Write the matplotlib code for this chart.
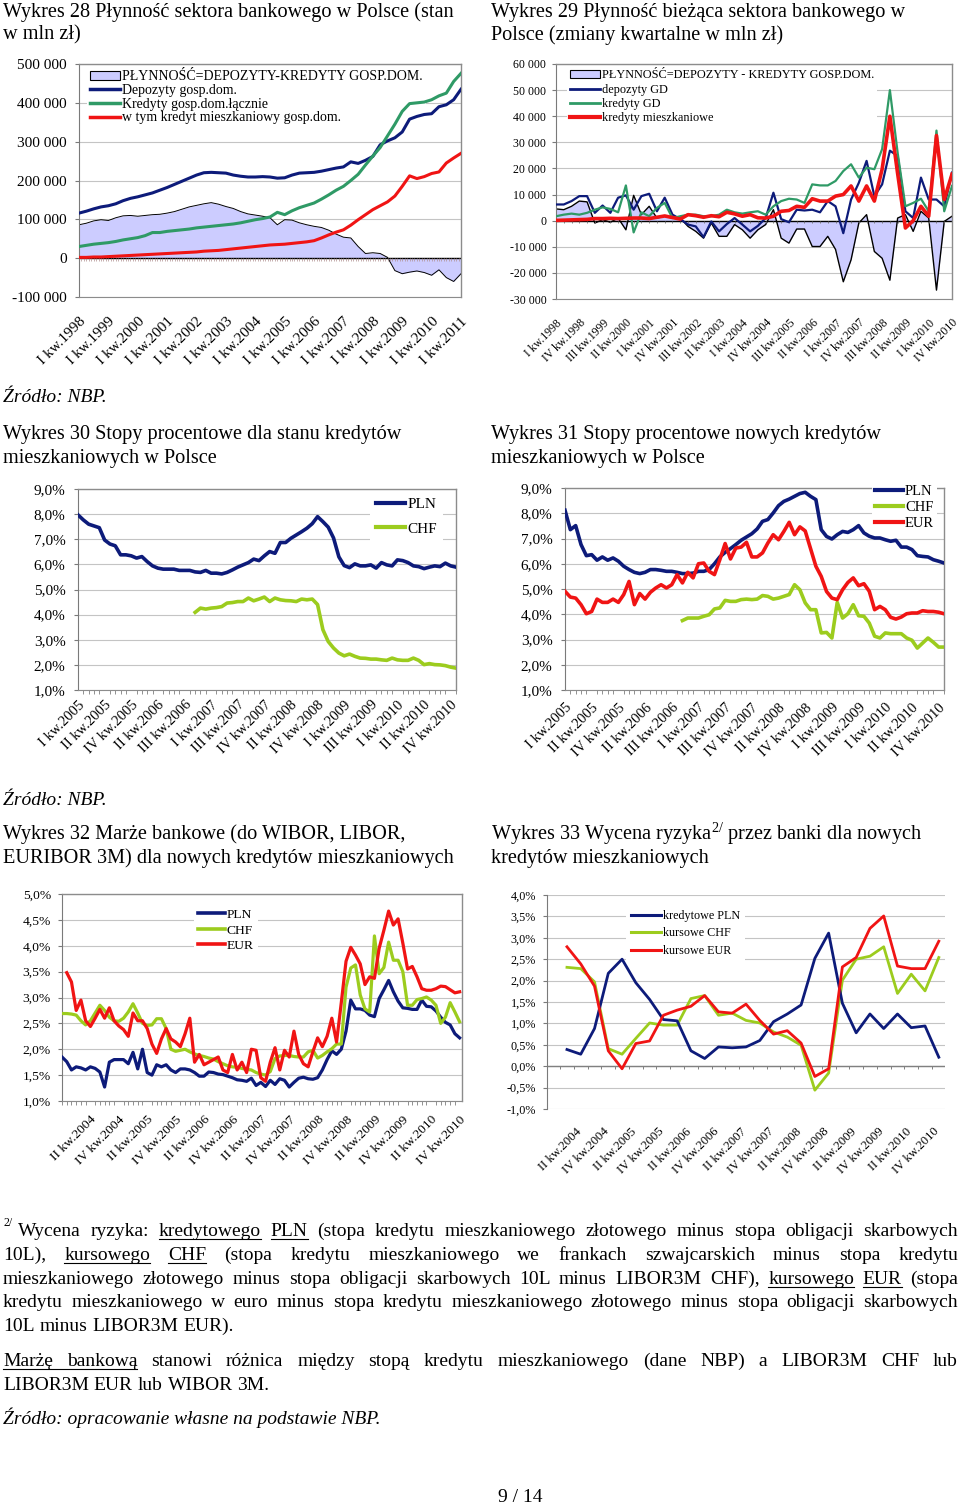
import numpy as np
import matplotlib
matplotlib.use('Agg')
import matplotlib.pyplot as plt
from matplotlib.patches import Patch
from matplotlib.lines import Line2D

plt.rcParams['font.family'] = ['Liberation Serif', 'DejaVu Serif']
plt.rcParams['mathtext.fontset'] = 'custom'
plt.rcParams['mathtext.rm'] = 'Liberation Serif'

W, H = 960, 1508
NAVY = '#0d1b7a'
SEA = '#2f9a66'
RED = '#f01414'
LIME = '#9ccc1e'
LAV = '#ccccff'
GRID = '#c4c4c4'
FRAME = '#8c8c8c'

# ---- Wykres 28 (kwartalnie, tys. mln zl) ----
lab28 = ['I kw.%d' % r for r in range(1998, 2012)]
depozyty28 = [116, 121, 127, 132, 135, 140, 148, 154, 158, 163, 168, 175, 182, 190, 198, 206,
              214, 220, 221, 220, 219, 214, 211, 209, 209, 210, 209, 206, 207, 214, 219, 220,
              221, 224, 228, 232, 235, 248, 244, 252, 262, 292, 302, 310, 325, 358, 365, 370,
              372, 390, 395, 408, 435]
kredyty28 = [30, 33, 36, 38, 40, 43, 47, 50, 53, 58, 66, 66, 69, 71, 73, 75,
             78, 80, 82, 84, 86, 88, 91, 95, 99, 102, 106, 118, 112, 122, 130, 136,
             142, 152, 163, 175, 185, 200, 216, 240, 263, 285, 315, 345, 378, 398, 400, 402,
             408, 418, 425, 455, 476]
mieszk28 = [2, 2, 3, 3, 4, 5, 6, 7, 8, 9, 10, 11, 12, 13, 14, 15,
            16, 18, 19, 20, 22, 24, 26, 28, 30, 32, 34, 35, 36, 38, 40, 42,
            45, 52, 60, 67, 73, 85, 99, 112, 125, 135, 145, 160, 185, 212, 205, 210,
            218, 222, 245, 258, 270]
plynnosc28 = [86, 90, 96, 99, 97, 104, 109, 110, 108, 110, 112, 113, 116, 120, 126, 132,
              136, 140, 143, 139, 133, 128, 120, 114, 111, 108, 104, 86, 99, 98, 91, 86,
              82, 79, 72, 62, 54, 52, 30, 12, 14, 12, 2, -32, -40, -36, -33, -37,
              -44, -30, -50, -60, -40]

# ---- Wykres 29 (zmiany kwartalne, tys. mln zl) ----
lab29 = ['I kw.1998', 'IV kw.1998', 'III kw.1999', 'II kw.2000', 'I kw.2001', 'IV kw.2001',
         'III kw.2002', 'II kw.2003', 'I kw.2004', 'IV kw.2004', 'III kw.2005', 'II kw.2006',
         'I kw.2007', 'IV kw.2007', 'III kw.2008', 'II kw.2009', 'I kw.2010', 'IV kw.2010']
depozyty29 = [6.2, 6.2, 7.5, 9.4, 9.4, 3.0, 5.8, 3.0, 8.8, 9.7, 4.2, 9.4, 10.3, 3.6, 8.8, 2.3,
              0.6, -1.5, -2.2, -6.3, -0.3, -4.1, -1.3, 1.0, -1.5, -4.1, -2.0, 1.0, 10.7, 0.6,
              -0.6, 4.2, 3.9, 4.2, 3.2, 7.5, 5.5, -4.8, 8.1, 14.5, 22.9, 9.4, 13.9, 26.8, 24.8,
              3.6, 1.0, 16.5, 8.1, 8.1, 5.5, 18.4]
kredyty29 = [1.7, 2.3, 2.7, 2.3, 3.0, 4.2, 5.1, 4.5, 3.2, 13.5, -4.5, 3.2, 1.7, 4.9, 6.8, 1.0,
             1.7, 2.3, 2.3, 1.7, 1.7, 2.3, 4.2, 3.2, 2.7, 3.2, 3.6, 2.3, 5.5, 7.5,
             8.4, 8.1, 6.8, 13.9, 13.5, 13.5, 15.2, 19.0, 21.6, 16.5, 20.3, 19.7, 27.4, 50.0, 26.0,
             5.5, 6.8, 8.4, 3.6, 34.5, 3.6, 13.3]
mieszk29 = [0.1, 0.2, 0.3, 0.4, 0.5, 0.8, 0.8, 0.9, 0.8, 0.9, 1.0, 1.0, 0.8, 1.3, 1.8, 1.2,
            0.6, 2.3, 1.9, 1.3, 1.9, 1.5, 3.2, 2.6, 1.7, 2.3, 1.1, 1.0, 1.7, 3.6,
            3.9, 5.5, 5.1, 8.4, 7.5, 7.5, 9.4, 10.0, 13.3, 7.5, 13.3, 7.5, 19.7, 40.0, 18.0,
            -2.8, 0.0, 5.5, 1.7, 32.6, 8.1, 17.8]
plynnosc29 = [4.5, 4.2, 5.5, 7.5, 7.2, -0.9, 0.4, -0.6, 1.0, -3.5, 9.7, 2.3, 5.5, 1.0, 1.7, 1.0,
              1.0, -2.2, -4.1, -6.7, -0.9, -6.0, -6.0, -1.5, -3.5, -6.7, -3.5, -1.5, 4.2, -6.7,
              -8.6, -3.2, -3.2, -9.9, -9.9, -6.0, -11.0, -23.4, -15.0, -0.9, 2.3, -11.8, -14.4,
              -22.8, 1.0, 2.3, -4.1, 3.6, 1.0, -26.6, -0.3, 1.7]

# ---- Wykres 30 / 31 (miesiecznie 2005-2010) ----
lab3031 = ['I kw.2005', 'II kw.2005', 'IV kw.2005', 'II kw.2006', 'III kw.2006', 'I kw.2007',
           'III kw.2007', 'IV kw.2007', 'II kw.2008', 'IV kw.2008', 'I kw.2009', 'III kw.2009',
           'I kw.2010', 'II kw.2010', 'IV kw.2010']
pln30 = [7.97, 7.77, 7.6, 7.53, 7.46, 6.97, 6.81, 6.74, 6.38, 6.38, 6.34, 6.25, 6.31, 6.11, 5.94,
         5.85, 5.81, 5.81, 5.81, 5.76, 5.76, 5.76, 5.7, 5.68, 5.76, 5.65, 5.65, 5.62, 5.68, 5.78,
         5.89, 5.98, 6.07, 6.21, 6.15, 6.34, 6.51, 6.44, 6.87, 6.87, 7.04, 7.17, 7.3, 7.44, 7.62,
         7.9, 7.7, 7.48, 7.05, 6.3, 5.95, 5.87, 6.02, 5.94, 5.94, 5.98, 5.85, 6.07, 5.98, 5.94,
         6.18, 6.15, 6.07, 5.94, 5.91, 5.83, 5.89, 5.94, 5.91, 6.05, 5.94, 5.89]
chf30 = [np.nan] * 22 + [4.09, 4.26, 4.22, 4.26, 4.28, 4.32, 4.46, 4.48, 4.52, 4.52, 4.66, 4.55,
                         4.62, 4.7, 4.52, 4.66, 4.59, 4.56, 4.55, 4.52, 4.62, 4.59, 4.62, 4.4,
                         3.4, 2.93, 2.67, 2.47, 2.36, 2.43, 2.34, 2.27, 2.26, 2.23, 2.23, 2.2,
                         2.18, 2.27, 2.2, 2.18, 2.18, 2.27, 2.18, 2.01, 2.05, 2.01, 2.0, 1.97,
                         1.91, 1.87]
pln31 = [8.12, 7.35, 7.51, 6.76, 6.32, 6.36, 6.14, 6.27, 6.14, 6.23, 6.1, 5.9, 5.77, 5.66, 5.61,
         5.66, 5.77, 5.77, 5.74, 5.7, 5.7, 5.66, 5.61, 5.61, 5.63, 5.7, 5.7, 5.77, 6.0, 6.27,
         6.45, 6.6, 6.76, 6.93, 7.06, 7.19, 7.38, 7.68, 7.75, 8.01, 8.3, 8.47, 8.56, 8.67, 8.78,
         8.83, 8.67, 8.54, 7.35, 7.08, 6.98, 7.15, 7.28, 7.24, 7.35, 7.51, 7.22, 7.09, 7.02, 7.02,
         6.95, 6.89, 6.93, 6.66, 6.66, 6.56, 6.32, 6.29, 6.27, 6.16, 6.1, 6.03]
eur31 = [4.91, 4.68, 4.64, 4.38, 4.02, 4.11, 4.6, 4.47, 4.47, 4.6, 4.47, 4.78, 5.3, 4.38, 4.82,
         4.6, 4.87, 5.04, 5.17, 5.04, 5.17, 5.57, 5.24, 5.66, 5.44, 6.0, 6.03, 5.7, 5.57, 6.16,
         6.8, 6.19, 6.62, 6.66, 6.85, 6.27, 6.27, 6.43, 6.82, 7.15, 6.95, 7.28, 7.64, 7.15, 7.46,
         7.3, 6.6, 5.9, 5.5, 4.9, 4.64, 4.58, 4.97, 5.26, 5.44, 5.13, 5.21, 4.91, 4.18, 4.31,
         4.18, 3.88, 3.81, 3.89, 4.02, 4.05, 4.05, 4.14, 4.11, 4.11, 4.08, 4.02]
chf31 = [np.nan] * 22 + [3.75, 3.85, 3.85, 3.85, 3.92, 3.98, 4.21, 4.25, 4.55, 4.51, 4.51, 4.58,
                         4.6, 4.58, 4.6, 4.74, 4.71, 4.6, 4.64, 4.71, 4.78, 5.17, 4.97, 4.45,
                         4.18, 4.18, 3.26, 3.28, 3.06, 4.47, 3.85, 4.02, 4.38, 3.94, 3.92, 3.65,
                         3.13, 3.06, 3.26, 3.23, 3.23, 3.23, 3.06, 2.97, 2.66, 2.86, 3.06, 2.89,
                         2.7, 2.7]

# ---- Wykres 32 (miesiecznie X 2003 - X 2010) ----
lab32 = ['II kw.2004', 'IV kw.2004', 'II kw.2005', 'IV kw.2005', 'II kw.2006', 'IV kw.2006',
         'II kw.2007', 'IV kw.2007', 'II kw.2008', 'IV kw.2008', 'II kw.2009', 'IV kw.2009',
         'II kw.2010', 'IV kw.2010']
pln32 = [1.85, 1.76, 1.6, 1.66, 1.64, 1.6, 1.66, 1.63, 1.56, 1.27, 1.75, 1.8, 1.8, 1.8, 1.72,
         1.94, 1.62, 2.0, 1.55, 1.5, 1.7, 1.66, 1.7, 1.6, 1.55, 1.62, 1.62, 1.6, 1.55, 1.48,
         1.48, 1.56, 1.55, 1.52, 1.51, 1.48, 1.45, 1.41, 1.4, 1.38, 1.44, 1.3, 1.36, 1.28, 1.4,
         1.32, 1.43, 1.4, 1.27, 1.36, 1.44, 1.46, 1.43, 1.42, 1.45, 1.6, 1.8, 1.97, 1.9, 2.0,
         2.35, 2.95, 2.78, 2.78, 2.75, 2.66, 2.63, 2.98, 3.15, 3.33, 3.11, 2.93, 2.8, 2.79, 2.77,
         2.77, 2.95, 2.83, 2.82, 2.74, 2.62, 2.52, 2.47, 2.3, 2.22]
chf32 = [2.69, 2.69, 2.68, 2.66, 2.55, 2.47, 2.55, 2.7, 2.85, 2.75, 2.62, 2.55, 2.54, 2.6, 2.72,
         2.88, 2.7, 2.5, 2.46, 2.47, 2.59, 2.59, 2.4, 2.0, 1.96, 1.98, 2.0, 1.95, 1.91, 1.88,
         1.86, 1.83, 1.81, 1.76, 1.72, 1.68, 1.66, 1.65, 1.63, 1.61, 1.6, 1.55, 1.52, 1.5, 1.57,
         1.82, 1.87, 1.88, 1.88, 1.86, 1.85, 1.85, 1.95, 1.98, 1.83, 1.88, 1.95, 2.01, 2.1, 2.1,
         3.2, 3.57, 3.63, 3.05, 2.78, 2.72, 4.19, 3.46, 3.58, 4.07, 3.72, 3.72, 3.5, 2.85, 2.85,
         2.96, 2.98, 3.01, 2.95, 2.85, 2.5, 2.62, 2.9, 2.72, 2.53]
eur32 = [np.nan, 3.48, 3.3, 2.75, 2.95, 2.55, 2.44, 2.6, 2.77, 2.6, 2.8, 2.55, 2.45, 2.38, 2.25,
         2.7, 2.55, 2.55, 2.4, 2.1, 1.92, 2.2, 2.4, 2.2, 2.14, 2.05, 2.3, 2.6, 1.75, 1.9,
         1.7, 1.75, 1.8, 1.85, 1.6, 1.55, 1.9, 1.6, 1.75, 1.55, 2.0, 1.98, 1.45, 1.38, 1.75,
         2.03, 1.6, 1.98, 1.85, 2.35, 1.9, 1.72, 1.66, 1.95, 2.22, 2.05, 2.25, 2.6, 2.14, 2.9,
         3.7, 3.97, 3.82, 3.65, 3.25, 3.4, 3.37, 3.95, 4.3, 4.67, 4.4, 4.52, 4.05, 3.55, 3.6,
         3.4, 3.17, 3.14, 3.14, 3.17, 3.22, 3.21, 3.15, 3.09, 3.11]

# ---- Wykres 33 (kwartalnie) ----
lab33 = lab32
pln33 = [0.39, 0.28, 0.88, 2.17, 2.5, 1.95, 1.56, 1.09, 1.06, 0.36, 0.18, 0.45, 0.43, 0.45,
         0.6, 1.04, 1.22, 1.43, 2.52, 3.11, 1.47, 0.78, 1.22, 0.88, 1.22, 0.9, 0.94, 0.21]
chf33 = [2.31, 2.28, 1.97, 0.41, 0.28, 0.65, 1.01, 0.96, 0.96, 1.58, 1.65, 1.19, 1.24, 1.07,
         1.01, 0.8, 0.68, 0.49, -0.56, -0.16, 2.01, 2.5, 2.57, 2.79, 1.7, 2.15, 1.76, 2.54]
eur33 = [2.79, 2.39, 1.87, 0.36, -0.06, 0.53, 0.59, 1.19, 1.31, 1.4, 1.65, 1.27, 1.24, 1.45,
         1.07, 0.75, 0.83, 0.54, -0.24, -0.06, 2.32, 2.54, 3.22, 3.51, 2.34, 2.28, 2.28, 2.92]


fig = plt.figure(figsize=(9.6, 15.08), dpi=100)
fig.patch.set_facecolor('white')


def fx(x):
    return x / W


def fy(y):
    return 1 - y / H


def make_ax(l, t, r, b, border=True):
    ax = fig.add_axes([l / W, 1 - b / H, (r - l) / W, (b - t) / H])
    for s in ('top', 'right'):
        ax.spines[s].set_visible(border)
        ax.spines[s].set_color(FRAME)
        ax.spines[s].set_linewidth(1.0)
    ax.spines['left'].set_color('#7a7a7a')
    ax.spines['bottom'].set_color(FRAME)
    ax.set_axisbelow(True)
    return ax


def pct(v):
    return ('%.1f%%' % v).replace('.', ',')


def thousands(v):
    s = '{:,}'.format(int(v * 1000)).replace(',', ' ')
    return s


def yaxis(ax, ticks, labels, size, pad=4):
    ax.set_yticks(ticks)
    ax.set_yticklabels(labels, fontsize=size)
    ax.tick_params(axis='y', length=3, width=0.8, color='#7a7a7a', pad=pad)
    ax.grid(axis='y', color=GRID, lw=0.8)


def xaxis(ax, pos, labels, size, pad):
    ax.set_xticks(pos)
    ax.set_xticklabels(labels, fontsize=size, rotation=45, ha='right', va='top',
                       rotation_mode='anchor')
    ax.tick_params(axis='x', length=0, pad=pad)


def legend(ax, handles, labels, x, y, size, **kw):
    lg = ax.legend(handles, labels, loc='upper left', bbox_to_anchor=(fx(x), fy(y)),
                   bbox_transform=fig.transFigure, fontsize=size, frameon=True,
                   fancybox=False, framealpha=1, facecolor='white', edgecolor='none', **kw)
    # legend box hides grid and frame, but the series stay on top
    lg.set_zorder(2.8)
    return lg


# ===== Wykres 28 =====
ax = make_ax(79, 64, 461, 297)
x28 = np.arange(len(depozyty28))
ax.fill_between(x28, plynnosc28, 0, color=LAV, lw=0, zorder=1)
ax.plot(x28, plynnosc28, color='black', lw=0.7, zorder=2)
ax.axhline(0, color='black', lw=1.0, zorder=2)
ax.vlines(np.arange(0, 52.01, 1 / 3), -8, 0, color='#b09090', lw=0.5, zorder=2)
ax.plot(x28, depozyty28, color=NAVY, lw=2.2, zorder=3)
ax.plot(x28, kredyty28, color=SEA, lw=2.2, zorder=3)
ax.plot(x28, mieszk28, color=RED, lw=2.2, zorder=3)
ax.set_xlim(0, 52)
ax.set_ylim(-100, 500)
yt = list(range(-100, 501, 100))
yaxis(ax, yt, [thousands(v) if v else '0' for v in yt], 11, pad=6)
xaxis(ax, np.arange(0, 53, 4), lab28, 11, pad=13)
legend(ax, [Patch(facecolor=LAV, edgecolor='black', lw=0.8),
            Line2D([], [], color=NAVY, lw=2.5), Line2D([], [], color=SEA, lw=2.5),
            Line2D([], [], color=RED, lw=2.5)],
       ['PŁYNNOŚĆ=DEPOZYTY-KREDYTY GOSP.DOM.', 'Depozyty gosp.dom.',
        'Kredyty gosp.dom.łącznie', 'w tym kredyt mieszkaniowy gosp.dom.'],
       80, 60, 10, handlelength=2.1, labelspacing=0.05, borderpad=0.25, handletextpad=0.15,
       handleheight=0.6)

# ===== Wykres 29 =====
ax = make_ax(556, 64, 952, 299)
x29 = np.arange(len(depozyty29))
ax.fill_between(x29, plynnosc29, 0, color=LAV, lw=0, zorder=1)
ax.plot(x29, plynnosc29, color='black', lw=1.0, zorder=2)
ax.axhline(0, color='black', lw=1.0, zorder=2)
ax.vlines(x29, -1.0, 0, color='#707070', lw=0.6, zorder=2)
ax.plot(x29, depozyty29, color=NAVY, lw=1.6, zorder=3)
ax.plot(x29, kredyty29, color=SEA, lw=1.6, zorder=3)
ax.plot(x29, mieszk29, color=RED, lw=2.6, zorder=4)
ax.set_xlim(0, 51)
ax.set_ylim(-30, 60)
yt = list(range(-30, 61, 10))
yaxis(ax, yt, [thousands(v) if v else '0' for v in yt], 8.5, pad=4)
xaxis(ax, np.arange(0, 52, 3), lab29, 8.5, pad=13)
legend(ax, [Patch(facecolor=LAV, edgecolor='black', lw=0.8),
            Line2D([], [], color=NAVY, lw=2), Line2D([], [], color=SEA, lw=2),
            Line2D([], [], color=RED, lw=3)],
       ['PŁYNNOŚĆ=DEPOZYTY - KREDYTY GOSP.DOM.', 'depozyty GD', 'kredyty GD',
        'kredyty mieszkaniowe'],
       561, 60, 8.8, handlelength=2.4, labelspacing=0.2, borderpad=0.25, handletextpad=0.2,
       handleheight=0.6)

# ===== Wykres 30 =====
ax = make_ax(78, 489, 456, 690)
x30 = np.arange(len(pln30))
ax.plot(x30, pln30, color=NAVY, lw=2.6, zorder=3)
ax.plot(x30, chf30, color=LIME, lw=2.6, zorder=3)
ax.set_xlim(0, 71)
ax.set_ylim(1, 9)
yt = list(range(1, 10))
yaxis(ax, yt, [pct(v) for v in yt], 11, pad=6)
xaxis(ax, np.arange(0, 71, 5), lab3031, 10.5, pad=6)
ax.set_xticks(x30, minor=True)
ax.tick_params(axis='x', which='minor', length=3, color='#909090', width=0.7)
legend(ax, [Line2D([], [], color=NAVY, lw=3), Line2D([], [], color=LIME, lw=3)],
       ['PLN', 'CHF'], 362, 484, 11, handlelength=1.9, labelspacing=0.7, borderpad=0.4,
       handletextpad=0.15)

# ===== Wykres 31 =====
ax = make_ax(565, 488, 944, 690)
x31 = np.arange(len(pln31))
ax.plot(x31, pln31, color=NAVY, lw=2.6, zorder=3)
ax.plot(x31, chf31, color=LIME, lw=2.6, zorder=3)
ax.plot(x31, eur31, color=RED, lw=2.6, zorder=3)
ax.set_xlim(0, 71)
ax.set_ylim(1, 9)
yaxis(ax, yt, [pct(v) for v in yt], 11, pad=6)
xaxis(ax, np.arange(0, 71, 5), lab3031, 10.5, pad=8)
ax.set_xticks(x31, minor=True)
ax.tick_params(axis='x', which='minor', length=3, color='#909090', width=0.7)
legend(ax, [Line2D([], [], color=NAVY, lw=3), Line2D([], [], color=LIME, lw=3),
            Line2D([], [], color=RED, lw=3)],
       ['PLN', 'CHF', 'EUR'], 865, 475, 10.5, handlelength=1.9, labelspacing=0.18,
       borderpad=0.2, handletextpad=0.15)

# ===== Wykres 32 =====
ax = make_ax(62, 894, 462, 1101)
x32 = np.arange(len(pln32))
ax.plot(x32, pln32, color=NAVY, lw=2.3, zorder=3)
ax.plot(x32, chf32, color=LIME, lw=2.3, zorder=3)
ax.plot(x32, eur32, color=RED, lw=2.3, zorder=3)
ax.set_xlim(0, 84.5)
ax.set_ylim(1, 5)
yt = list(np.arange(1, 5.01, 0.5))
yaxis(ax, yt, [pct(v) for v in yt], 9.7, pad=5)
xaxis(ax, np.arange(6, 85, 6), lab32, 9.7, pad=9)
ax.set_xticks(x32, minor=True)
ax.tick_params(axis='x', which='minor', length=3, color='#909090', width=0.7)
legend(ax, [Line2D([], [], color=NAVY, lw=2.6), Line2D([], [], color=LIME, lw=2.6),
            Line2D([], [], color=RED, lw=2.6)],
       ['PLN', 'CHF', 'EUR'], 187, 898, 9.7, handlelength=2.0, labelspacing=0.22,
       borderpad=0.3, handletextpad=0.15)

# ===== Wykres 33 =====
ax = make_ax(547, 895, 945, 1109, border=False)
ax.spines['bottom'].set_visible(False)
x33 = np.arange(len(pln33))
ax.axhline(0, color='#808080', lw=1.0, zorder=2)
ax.vlines(np.arange(-0.5, 28, 1), -0.07, 0, color='#808080', lw=0.7, zorder=2)
ax.plot(x33, chf33, color=LIME, lw=2.0, zorder=3)
ax.plot(x33, pln33, color=NAVY, lw=2.0, zorder=3)
ax.plot(x33, eur33, color=RED, lw=2.0, zorder=3)
ax.set_xlim(-1.45, 27.45)
ax.set_ylim(-1, 4)
yt = list(np.arange(-1, 4.01, 0.5))
yaxis(ax, yt, [pct(v) for v in yt], 8.7, pad=5)
xaxis(ax, np.arange(0, 27, 2) + 0.6, lab33, 9.2, pad=12)
legend(ax, [Line2D([], [], color=NAVY, lw=2.2), Line2D([], [], color=LIME, lw=2.2),
            Line2D([], [], color=RED, lw=2.2)],
       ['kredytowe PLN', 'kursowe CHF', 'kursowe EUR'], 620, 899, 8.7, handlelength=2.5,
       labelspacing=0.45, borderpad=0.4, handletextpad=0.15)

# ===== Teksty =====
TS = 14.6
for x, y, s in [(3, 12, 'Wykres 28 Płynność sektora bankowego w Polsce (stan'),
                (3, 35, 'w mln zł)'),
                (491, 12, 'Wykres 29 Płynność bieżąca sektora bankowego w'),
                (491, 35, 'Polsce (zmiany kwartalne w mln zł)'),
                (3, 434, 'Wykres 30 Stopy procentowe dla stanu kredytów'),
                (3, 458, 'mieszkaniowych w Polsce'),
                (491, 434, 'Wykres 31 Stopy procentowe nowych kredytów'),
                (491, 458, 'mieszkaniowych w Polsce'),
                (3, 834, 'Wykres 32 Marże bankowe (do WIBOR, LIBOR,'),
                (3, 858, 'EURIBOR 3M) dla nowych kredytów mieszkaniowych'),
                (491, 834, r'Wykres 33 Wycena ryzyka$^{\mathrm{2/}}$ przez banki dla nowych'),
                (491, 858, 'kredytów mieszkaniowych')]:
    fig.text(fx(x), fy(y), s, fontsize=TS, ha='left', va='center')

fig.text(fx(3), fy(397), 'Źródło: NBP.', fontsize=14, style='italic', va='center')
fig.text(fx(3), fy(800), 'Źródło: NBP.', fontsize=14, style='italic', va='center')

renderer = fig.canvas.get_renderer()


def width_px(s, size):
    t = fig.text(0, 0, s, fontsize=size)
    w = t.get_window_extent(renderer=renderer).width
    t.remove()
    return w


foot = [
    ('Wycena ryzyka: kredytowego PLN (stopa kredytu mieszkaniowego złotowego minus stopa '
     'obligacji skarbowych', 1236, 18, True, [(2, 2), (3, 3)]),
    ('10L), kursowego CHF (stopa kredytu mieszkaniowego we frankach szwajcarskich minus stopa '
     'kredytu', 1260, 3, True, [(1, 1), (2, 2)]),
    ('mieszkaniowego złotowego minus stopa obligacji skarbowych 10L minus LIBOR3M CHF), '
     'kursowego EUR (stopa', 1284, 3, True, [(10, 10), (11, 11)]),
    ('kredytu mieszkaniowego w euro minus stopa kredytu mieszkaniowego złotowego minus stopa '
     'obligacji skarbowych', 1307, 3, True, []),
    ('10L minus LIBOR3M EUR).', 1331, 3, False, []),
    ('Marżę bankową stanowi różnica między stopą kredytu mieszkaniowego (dane NBP) a LIBOR3M '
     'CHF lub', 1366, 3, True, [(0, 1)]),
    ('LIBOR3M EUR lub WIBOR 3M.', 1390, 3, False, []),
]
RIGHT = 958
FS = 14.0
for s, y, x0, just, ul in foot:
    if just:
        nat = width_px(s, FS)
        FS = min(FS, FS * (RIGHT - x0) / nat * 0.995)

space = width_px('a a', FS) - width_px('aa', FS)
for s, y, x0, just, ul in foot:
    words = s.split(' ')
    wds = [width_px(w, FS) for w in words]
    gap = (RIGHT - x0 - sum(wds)) / (len(words) - 1) if just else space
    x = x0
    spans = []
    for w, wd in zip(words, wds):
        fig.text(fx(x), fy(y), w, fontsize=FS, ha='left', va='baseline')
        spans.append((x, x + wd))
        x += wd + gap
    for a, b in ul:
        fig.add_artist(Line2D([fx(spans[a][0]), fx(spans[b][1])], [fy(y + 3), fy(y + 3)],
                              color='black', lw=0.8, transform=fig.transFigure))

fig.text(fx(3), fy(1223), '2/', fontsize=8.5, ha='left', va='center')
fig.text(fx(3), fy(1418), 'Źródło: opracowanie własne na podstawie NBP.', fontsize=FS,
         style='italic', va='center')
fig.text(fx(520), fy(1497), '9 / 14', fontsize=14, ha='center', va='center')

fig.savefig('out.png', dpi=100, facecolor='white')
